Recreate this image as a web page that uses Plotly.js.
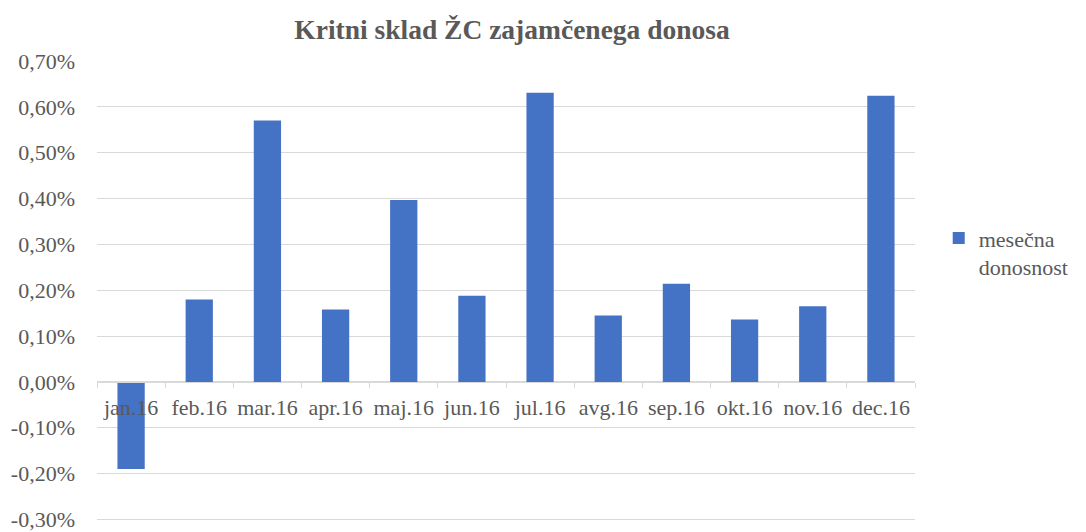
<!DOCTYPE html>
<html>
<head>
<meta charset="utf-8">
<script src="https://cdn.plot.ly/plotly-3.0.1.min.js"></script>
<style>html,body{margin:0;padding:0;background:#fff;}#chart{width:1086px;height:532px;}</style>
</head>
<body>
<div id="chart"></div>
<script>
const months = ["jan.16","feb.16","mar.16","apr.16","maj.16","jun.16","jul.16","avg.16","sep.16","okt.16","nov.16","dec.16"];
const monthlyReturn = [-0.0019, 0.0018, 0.0057, 0.00158, 0.00397, 0.00188, 0.00631, 0.00145, 0.00214, 0.00136, 0.00165, 0.00624];
const seriesName = "mesečna<br>donosnost";
const yTickVals = [-0.003,-0.002,-0.001,0,0.001,0.002,0.003,0.004,0.005,0.006,0.007];
const yTickText = ["-0,30%","-0,20%","-0,10%","0,00%","0,10%","0,20%","0,30%","0,40%","0,50%","0,60%","0,70%"];

const fontFam = "'Liberation Serif', 'DejaVu Serif', serif";
const grey = "#595959";
const yMin = -0.0031, yMax = 0.007;

Plotly.newPlot("chart", [{
  type: "bar",
  x: months,
  y: monthlyReturn,
  name: seriesName,
  marker: {color: "#4472C4"},
  showlegend: true
}], {
  width: 1086, height: 532,
  paper_bgcolor: "#fff", plot_bgcolor: "#fff",
  margin: {l: 97, r: 171, t: 61, b: 8, autoexpand: false},
  font: {family: fontFam, color: grey, size: 22},
  title: {text: "<b>Kritni sklad ŽC zajamčenega donosa</b>", font: {family: fontFam, size: 27.5, color: grey}, x: 0.4715, xanchor: "center", y: 0.944, yanchor: "middle"},
  bargap: 0.6,
  xaxis: {
    type: "category",
    anchor: "free",
    position: (0 - yMin) / (yMax - yMin),
    showline: true, linecolor: "#d9d9d9", linewidth: 1,
    ticks: "outside", tickson: "boundaries", ticklen: 5, tickcolor: "#d9d9d9",
    showgrid: false, zeroline: false,
    tickangle: 0,
    ticklabelstandoff: 6,
    tickfont: {family: fontFam, size: 22, color: grey},
    automargin: false,
    fixedrange: true
  },
  yaxis: {
    range: [yMin, yMax],
    tickvals: yTickVals, ticktext: yTickText,
    showgrid: true, gridcolor: "#d9d9d9", gridwidth: 1,
    zeroline: false, showline: false, ticks: "",
    ticklabelstandoff: 21,
    ticklabeloverflow: "allow",
    tickfont: {family: fontFam, size: 22, color: grey},
    automargin: false,
    fixedrange: true
  },
  legend: {
    x: 1.029, xanchor: "left", y: 0.586, yanchor: "middle", valign: "top",
    font: {family: fontFam, size: 22, color: grey},
    itemwidth: 30, bgcolor: "rgba(0,0,0,0)"
  }
}, {displayModeBar: false, staticPlot: true});
</script>
</body>
</html>
